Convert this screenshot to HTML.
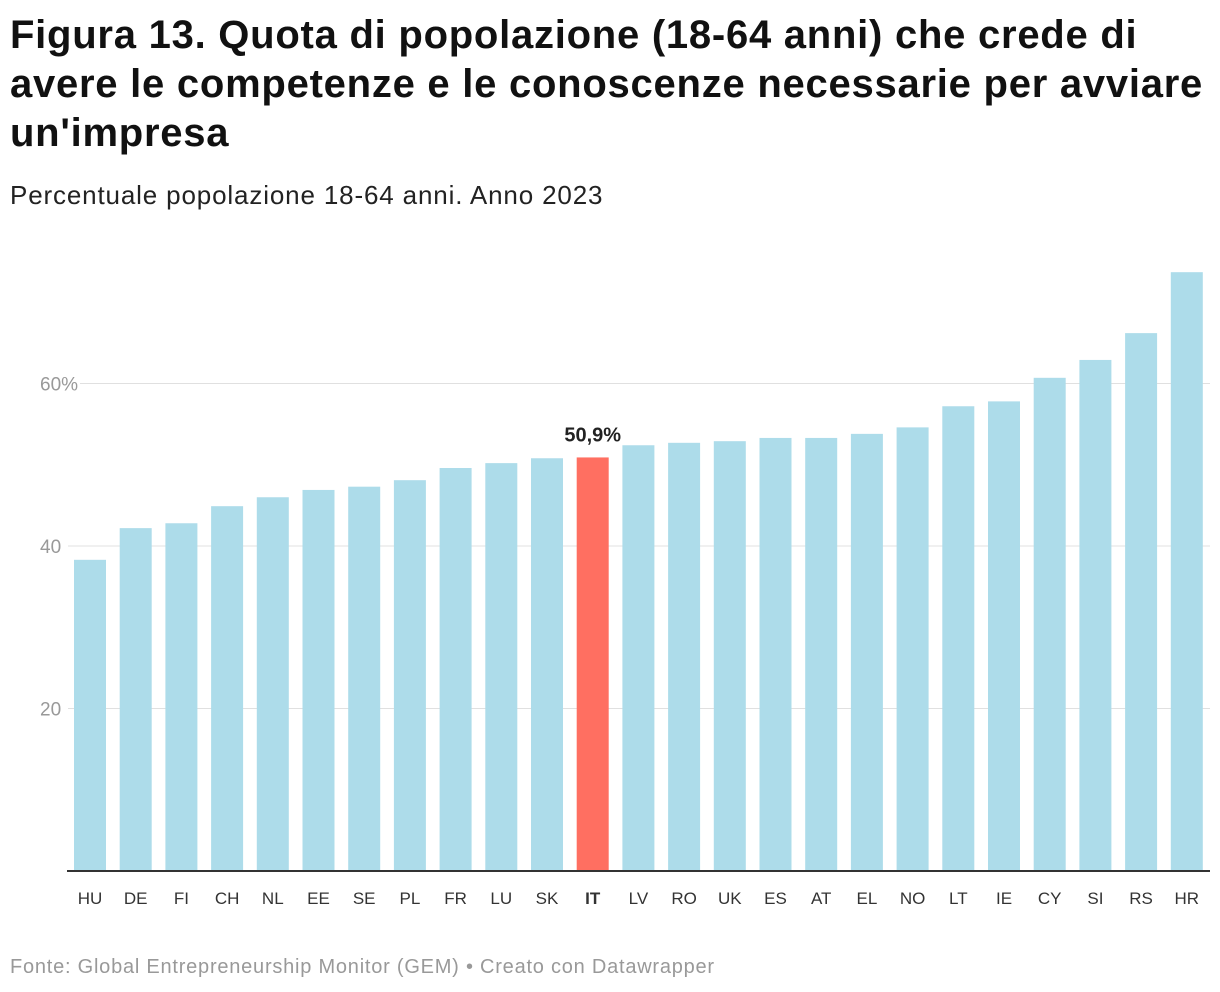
<!DOCTYPE html>
<html><head><meta charset="utf-8">
<style>
body{margin:0;background:#fff;font-family:"Liberation Sans",sans-serif;}
#wrap{position:relative;width:1220px;height:992px;overflow:hidden;}
h1{position:absolute;left:10px;top:11px;margin:0;font-size:40px;line-height:49px;font-weight:bold;color:#111;width:1215px;white-space:nowrap;letter-spacing:0.75px}
.sub{position:absolute;left:10px;top:180px;font-size:26px;color:#222;letter-spacing:0.85px}
.src{position:absolute;left:10px;top:956px;font-size:20px;color:#999;letter-spacing:0.77px}
</style></head><body>
<div id="wrap">
<h1>Figura 13. Quota di popolazione (18-64 anni) che crede di<br>avere le competenze e le conoscenze necessarie per avviare<br>un'impresa</h1>
<div class="sub">Percentuale popolazione 18-64 anni. Anno 2023</div>
<svg id="chart" width="1220" height="992" style="position:absolute;left:0;top:0"></svg>
<div class="src">Fonte: Global Entrepreneurship Monitor (GEM) • Creato con Datawrapper</div>
</div>
<script>
const categories=["HU","DE","FI","CH","NL","EE","SE","PL","FR","LU","SK","IT","LV","RO","UK","ES","AT","EL","NO","LT","IE","CY","SI","RS","HR"];
const values=[38.3,42.2,42.8,44.9,46.0,46.9,47.3,48.1,49.6,50.2,50.8,50.9,52.4,52.7,52.9,53.3,53.3,53.8,54.6,57.2,57.8,60.7,62.9,66.2,73.7];
const ticks=[20,40,60];
const tickLabels=["20","40","60%"];
const highlight="IT";
const highlightLabel="50,9%";
const NS="http://www.w3.org/2000/svg";
const svg=document.getElementById('chart');
const y0=871,ppu=8.125;
const y=v=>y0-v*ppu;
const x=i=>74+i*45.7;
const bw=32;
function mk(t,a){const e=document.createElementNS(NS,t);for(const k in a)e.setAttribute(k,a[k]);svg.appendChild(e);return e;}
ticks.forEach((t,i)=>{
  const g=mk('line',{x1:67,x2:1210,y1:y(t),y2:y(t),stroke:'#e0e0e0','stroke-width':1});
  
  
  const r=mk('rect',{x:36,y:y(t)-14,width:tickLabels[i].length*12+8,height:20,fill:'#fff'});
  
  
  const tx=mk('text',{x:40,y:y(t)+7,'font-size':19,fill:'#999'});
  tx.textContent=tickLabels[i];
  
  
});
categories.forEach((c,i)=>{
  const hi=c===highlight;
  const b=mk('rect',{x:x(i),y:y(values[i]),width:bw,height:values[i]*ppu,fill:hi?'#ff6f61':'#addcea'});
  
  
  const l=mk('text',{x:x(i)+bw/2,y:904,'text-anchor':'middle','font-size':17,fill:'#333','font-weight':hi?'bold':'normal'});
  l.textContent=c;
  
  
  if(hi){
    const v=mk('text',{x:x(i)+bw/2,y:y(values[i])-16,'text-anchor':'middle','font-size':20,'font-weight':'bold',fill:'#222'});
    v.textContent=highlightLabel;
    
    
  }
});
const ax=mk('line',{x1:67,x2:1210,y1:y0,y2:y0,stroke:'#333','stroke-width':2});


</script>
</body></html>
